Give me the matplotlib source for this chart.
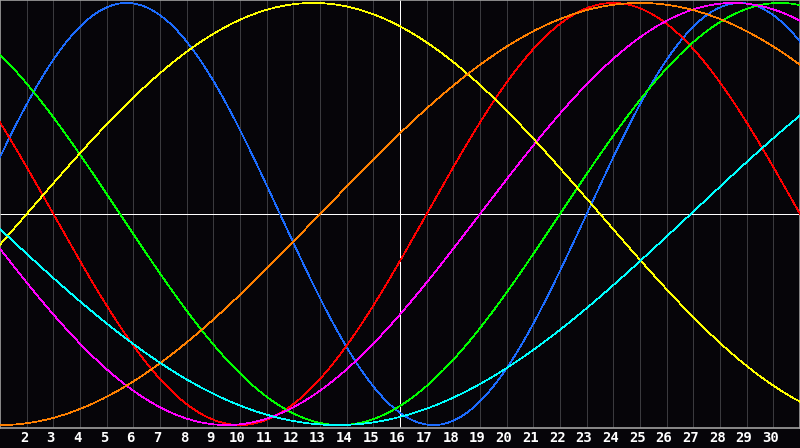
import numpy as np
import matplotlib
matplotlib.use("Agg")
import matplotlib.pyplot as plt

# biorhythm-style cycles: period (days) and day of the rising zero crossing
names = ["physical", "emotional", "intellectual", "intuitive", "aesthetic", "awareness", "spiritual"]
periods = [23, 28, 33, 38, 43, 48, 53]
zero_day = [0.0, 17.0, 22.0, 19.0, 2.0, 13.0, 26.9]
colors = ["#1c6cff", "#ff0000", "#00ff00", "#ff00ff", "#ffff00", "#ff8000", "#00ffff"]

days = list(range(1, 32))
tick_days = list(range(2, 31))
mid_day = 16

bg = "#060509"
px = 0.72  # one pixel at 100 dpi

fig = plt.figure(figsize=(8, 4.48), dpi=100, facecolor=bg)
ax = fig.add_axes([0, 20 / 448, 1, 428 / 448])
ax.set_facecolor(bg)
ax.set_xlim(days[0], days[-1])
ax.set_ylim(-1.014, 1.014)

for d in tick_days:
    ax.axvline(d, color="#3a3a3e", lw=px, antialiased=False, zorder=1)
ax.axvline(mid_day, color="white", lw=px, antialiased=False, zorder=2)
ax.axhline(0, color="white", lw=px, antialiased=False, zorder=2)

t = np.linspace(days[0], days[-1], 1601)
for p, z, c in zip(periods, zero_day, colors):
    ax.plot(t, np.sin(2 * np.pi * (t - z) / p), color=c, lw=0.5,
            antialiased=False, zorder=3)

for s in ax.spines.values():
    s.set_color("#a0a0a0")
    s.set_linewidth(1.2)

ax.set_xticks([])
ax.set_yticks([])

for d in tick_days:
    fig.text((d - days[0] - 0.1) / (days[-1] - days[0]), 10 / 448, str(d),
             color="white", fontsize=10, fontweight="bold",
             family="DejaVu Sans Mono", ha="center", va="center")

fig.savefig("out.png", dpi=100, facecolor=bg)
